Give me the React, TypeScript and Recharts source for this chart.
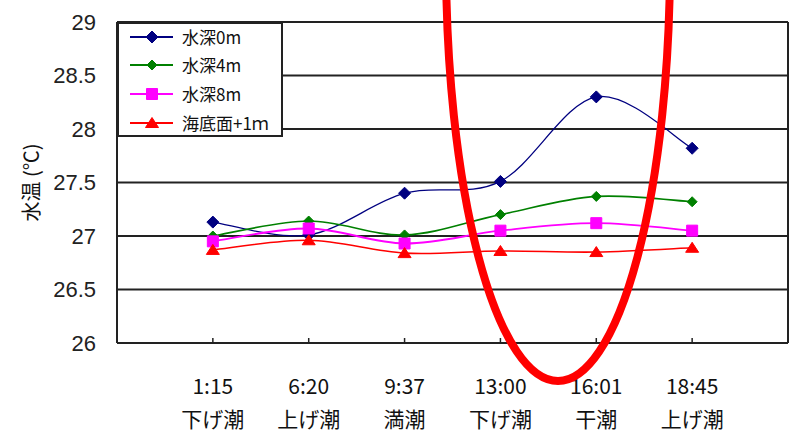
import React from 'react';
import { LineChart, Line, XAxis, YAxis, CartesianGrid, Legend, ReferenceLine } from 'recharts';

// Observation times and tide states
const times = ['1:15', '6:20', '9:37', '13:00', '16:01', '18:45'];
const tides = ['下げ潮', '上げ潮', '満潮', '下げ潮', '干潮', '上げ潮'];

// Water temperature (°C) per depth
const depth0m = [27.13, 27.01, 27.4, 27.51, 28.3, 27.82];
const depth4m = [27.0, 27.14, 27.01, 27.2, 27.37, 27.32];
const depth8m = [26.95, 27.07, 26.93, 27.05, 27.12, 27.05];
const seabed1m = [26.87, 26.96, 26.84, 26.86, 26.85, 26.89];

const yTicks = [26, 26.5, 27, 27.5, 28, 28.5, 29];

const rows = times.map((t, i) => ({
  pos: i + 1,
  d0: depth0m[i],
  d4: depth4m[i],
  d8: depth8m[i],
  sb: seabed1m[i],
}));

const JP = '"Noto Sans CJK JP", "Noto Sans", sans-serif';
const AXIS = '#222';

// Spreadsheet-style smoothing: cubic Bezier through each point,
// control points from neighbouring points (Catmull-Rom, 1/6 factor).
const smoothCurve = (context: any) => {
  let pts: [number, number][] = [];
  return {
    areaStart() {},
    areaEnd() {},
    lineStart() {
      pts = [];
    },
    lineEnd() {
      if (!pts.length) return;
      context.moveTo(pts[0][0], pts[0][1]);
      for (let i = 0; i < pts.length - 1; i++) {
        const p0 = pts[i - 1] || pts[i];
        const p1 = pts[i];
        const p2 = pts[i + 1];
        const p3 = pts[i + 2] || p2;
        context.bezierCurveTo(
          p1[0] + (p2[0] - p0[0]) / 6,
          p1[1] + (p2[1] - p0[1]) / 6,
          p2[0] - (p3[0] - p1[0]) / 6,
          p2[1] - (p3[1] - p1[1]) / 6,
          p2[0],
          p2[1]
        );
      }
    },
    point(x: number, y: number) {
      pts.push([+x, +y]);
    },
  };
};

type Shape = 'diamond' | 'square' | 'triangle';

const markerPath = (shape: Shape, cx: number, cy: number, r: number) => {
  if (shape === 'diamond') return `M${cx},${cy - r}L${cx + r},${cy}L${cx},${cy + r}L${cx - r},${cy}Z`;
  if (shape === 'square') return `M${cx - r},${cy - r}H${cx + r}V${cy + r}H${cx - r}Z`;
  return `M${cx},${cy - r}L${cx + r + 1},${cy + r - 1}H${cx - r - 1}Z`;
};

const makeDot = (shape: Shape, color: string, r: number, tag: string) => (props: any) => {
  const { cx, cy, index } = props;
  if (cx == null || cy == null) return <g key={`${tag}-${index}`} />;
  return <path key={`${tag}-${index}`} d={markerPath(shape, cx, cy, r)} fill={color} stroke={color} strokeWidth={1} />;
};

const series = [
  { key: 'd0', name: '水深0m', color: '#000080', shape: 'diamond' as Shape, r: 6, width: 1.3 },
  { key: 'd4', name: '水深4m', color: '#008000', shape: 'diamond' as Shape, r: 5, width: 1.7 },
  { key: 'd8', name: '水深8m', color: '#FF00FF', shape: 'square' as Shape, r: 5.5, width: 1.8 },
  { key: 'sb', name: '海底面+1ｍ', color: '#FF0000', shape: 'triangle' as Shape, r: 5.5, width: 1.6 },
];

const rowCenters = [15, 43, 72, 101];

const LegendBox = () => (
  <div
    style={{
      position: 'relative',
      width: 166,
      height: 115,
      boxSizing: 'border-box',
      border: `2px solid ${AXIS}`,
      background: '#fff',
      fontFamily: JP,
    }}
  >
    {series.map((s, i) => (
      <div
        key={s.key}
        style={{ position: 'absolute', left: 0, top: rowCenters[i] - 2 - 11, height: 22, display: 'flex', alignItems: 'center' }}
      >
        <svg width={48} height={22} style={{ marginLeft: 9, display: 'block' }}>
          <line x1={2} y1={11} x2={45} y2={11} stroke={s.color} strokeWidth={1.8} />
          <path d={markerPath(s.shape, 24, 11, s.r)} fill={s.color} stroke={s.color} />
        </svg>
        <span style={{ marginLeft: 6, fontSize: 17, color: '#111', lineHeight: '22px', whiteSpace: 'nowrap' }}>{s.name}</span>
      </div>
    ))}
  </div>
);

const XTick = (props: any) => {
  const { x, y, payload } = props;
  const i = Math.round(payload.value) - 1;
  return (
    <g>
      <line x1={x} y1={y} x2={x} y2={y - 5} stroke={AXIS} strokeWidth={1.5} />
      <text x={x} y={y + 42} textAnchor="middle" dominantBaseline="central" fontSize={21} fill="#111" fontFamily={JP}>
        {times[i]}
      </text>
      <text x={x} y={y + 75} textAnchor="middle" dominantBaseline="central" fontSize={21} fill="#111" fontFamily={JP}>
        {tides[i]}
      </text>
    </g>
  );
};

const YLabel = (props: any) => {
  const vb = props.viewBox || { x: 0, y: 22, width: 117, height: 321 };
  const lx = vb.x + 30;
  const ly = vb.y + vb.height / 2;
  return (
    <text
      x={lx}
      y={ly}
      transform={`rotate(-90 ${lx} ${ly})`}
      textAnchor="middle"
      dominantBaseline="central"
      fontSize={20}
      fill="#111"
      fontFamily={JP}
    >
      水温 (℃)
    </text>
  );
};

export default function App() {
  return (
    <div style={{ position: 'relative', width: 790, height: 433, fontFamily: JP, background: '#fff' }}>
      <style>{'body{margin:0;background:#fff}'}</style>
      <LineChart width={790} height={433} data={rows} margin={{ top: 22, right: 2, bottom: 0, left: 0 }}>
        <CartesianGrid vertical={false} stroke={AXIS} strokeWidth={2} />
        <XAxis
          type="number"
          dataKey="pos"
          domain={[0, 7]}
          ticks={[1, 2, 3, 4, 5, 6]}
          allowDecimals={false}
          height={90}
          tickSize={0}
          tickMargin={0}
          tickLine={false}
          axisLine={{ stroke: AXIS, strokeWidth: 2 }}
          tick={<XTick />}
          interval={0}
        />
        <YAxis
          type="number"
          domain={[26, 29]}
          ticks={yTicks}
          width={117}
          tickSize={0}
          tickMargin={21}
          tickLine={false}
          axisLine={{ stroke: AXIS, strokeWidth: 2 }}
          tick={{ fontSize: 22, fill: '#222', fontFamily: '"Liberation Sans", Arial, sans-serif' }}
          interval={0}
          label={{ content: YLabel }}
        />
        <ReferenceLine x={7} stroke={AXIS} strokeWidth={2} />
        {series.map((s) => (
          <Line
            key={s.key}
            dataKey={s.key}
            name={s.name}
            type={smoothCurve as any}
            stroke={s.color}
            strokeWidth={s.width}
            dot={makeDot(s.shape, s.color, s.r, s.key)}
            activeDot={false}
            isAnimationActive={false}
          />
        ))}
        <Legend
          content={<LegendBox />}
          layout="horizontal"
          verticalAlign="middle"
          align="center"
          wrapperStyle={{ left: 117, top: 22, width: 166, height: 115 }}
        />
      </LineChart>
      <svg
        width={790}
        height={433}
        style={{ position: 'absolute', left: 0, top: 0, pointerEvents: 'none', overflow: 'hidden' }}
      >
        <ellipse cx={558} cy={-39} rx={112} ry={420} fill="none" stroke="#FF0000" strokeWidth={8} />
      </svg>
    </div>
  );
}
